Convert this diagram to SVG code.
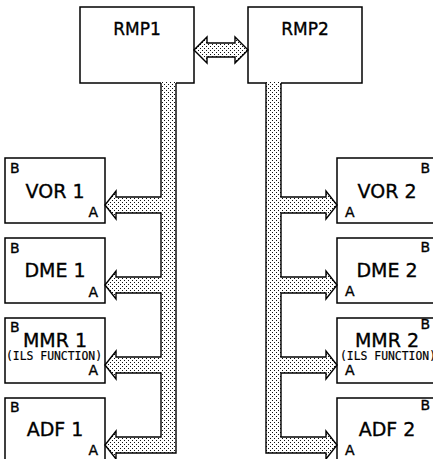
<svg xmlns="http://www.w3.org/2000/svg" width="433" height="459" viewBox="0 0 433 459">
<style>
.box{fill:#fff;stroke:#000;stroke-width:1.5}
.bus{fill:url(#dots);stroke:none}
.edge{fill:none;stroke:#000;stroke-width:1.4;stroke-linejoin:miter}
text{font-family:"DejaVu Sans","Liberation Sans",sans-serif;fill:#000;stroke:#000;stroke-width:0.35}
.t1{font-size:17px;text-anchor:middle}
.t2{font-size:19px;text-anchor:middle}
.s{font-size:14px}
.f{font-size:11.5px;font-family:"DejaVu Sans Mono","Liberation Mono",monospace;stroke-width:0.2}
.e{text-anchor:end}
</style>
<defs>
<pattern id="dots" width="4" height="4" patternUnits="userSpaceOnUse">
<rect width="4" height="4" fill="#fff"/>
<rect x="0" y="0" width="1" height="1" fill="#111"/>
<rect x="2" y="2" width="1" height="1" fill="#111"/>
</pattern>
</defs>
<g id="rmp1"><rect class="box" x="80" y="7" width="114" height="76"/><text class="t1" x="137" y="35">RMP1</text></g>
<g id="rmp2"><rect class="box" x="248" y="7" width="114" height="76"/><text class="t1" x="305" y="35">RMP2</text></g>
<g id="vor1"><rect class="box" x="5" y="158" width="100" height="65"/><text class="s" x="10" y="173">B</text><text class="t2" x="55" y="198">VOR 1</text><text class="s e" x="98" y="217">A</text></g>
<g id="dme1"><rect class="box" x="5" y="238" width="100" height="65"/><text class="s" x="10" y="253">B</text><text class="t2" x="55" y="277">DME 1</text><text class="s e" x="98" y="297">A</text></g>
<g id="mmr1"><rect class="box" x="5" y="318" width="100" height="65"/><text class="s" x="10" y="332">B</text><text class="t2" x="55" y="347">MMR 1</text><text class="f" x="6" y="360" textLength="96" lengthAdjust="spacingAndGlyphs">(ILS FUNCTION)</text><text class="s e" x="98" y="375">A</text></g>
<g id="adf1"><rect class="box" x="5" y="398" width="100" height="65"/><text class="s" x="10" y="412">B</text><text class="t2" x="55" y="436">ADF 1</text><text class="s e" x="98" y="455">A</text></g>
<g id="vor2"><rect class="box" x="337" y="158" width="100" height="65"/><text class="s e" x="430" y="173">B</text><text class="t2" x="387" y="198">VOR 2</text><text class="s" x="345" y="217">A</text></g>
<g id="dme2"><rect class="box" x="337" y="238" width="100" height="65"/><text class="s e" x="430" y="252">B</text><text class="t2" x="387" y="277">DME 2</text><text class="s" x="345" y="296">A</text></g>
<g id="mmr2"><rect class="box" x="337" y="318" width="100" height="65"/><text class="s e" x="430" y="329">B</text><text class="t2" x="387" y="347">MMR 2</text><text class="f" x="340" y="360" textLength="96" lengthAdjust="spacingAndGlyphs">(ILS FUNCTION)</text><text class="s" x="345" y="375">A</text></g>
<g id="adf2"><rect class="box" x="337" y="398" width="100" height="65"/><text class="s e" x="430" y="410">B</text><text class="t2" x="387" y="436">ADF 2</text><text class="s" x="345" y="455">A</text></g>
<g id="connectors">
<path class="bus" d="M161,82 V197 H116 V191 L105,205 L116,219 V213 H161 V277 H116 V271 L105,285 L116,299 V293 H161 V357 H116 V351 L105,365 L116,379 V373 H161 V437 H116 V431 L105,445 L116,459 V453 H176 V82 Z"/>
<path class="edge" d="M161,83 V197 H116 V191 L105,205 L116,219 V213 H161 V277 H116 V271 L105,285 L116,299 V293 H161 V357 H116 V351 L105,365 L116,379 V373 H161 V437 H116 V431 L105,445 L116,459 V453 H176 V83"/>
<path class="bus" d="M281,82 V197 H326 V191 L337,205 L326,219 V213 H281 V277 H326 V271 L337,285 L326,299 V293 H281 V357 H326 V351 L337,365 L326,379 V373 H281 V437 H326 V431 L337,445 L326,459 V453 H266 V82 Z"/>
<path class="edge" d="M281,83 V197 H326 V191 L337,205 L326,219 V213 H281 V277 H326 V271 L337,285 L326,299 V293 H281 V357 H326 V351 L337,365 L326,379 V373 H281 V437 H326 V431 L337,445 L326,459 V453 H266 V83"/>
<path class="bus" d="M194,50 L207,37 V43 H235 V37 L248,50 L235,63 V57 H207 V63 Z"/>
<path class="edge" d="M194,50 L207,37 V43 H235 V37 L248,50 L235,63 V57 H207 V63 Z"/>
</g>
</svg>
